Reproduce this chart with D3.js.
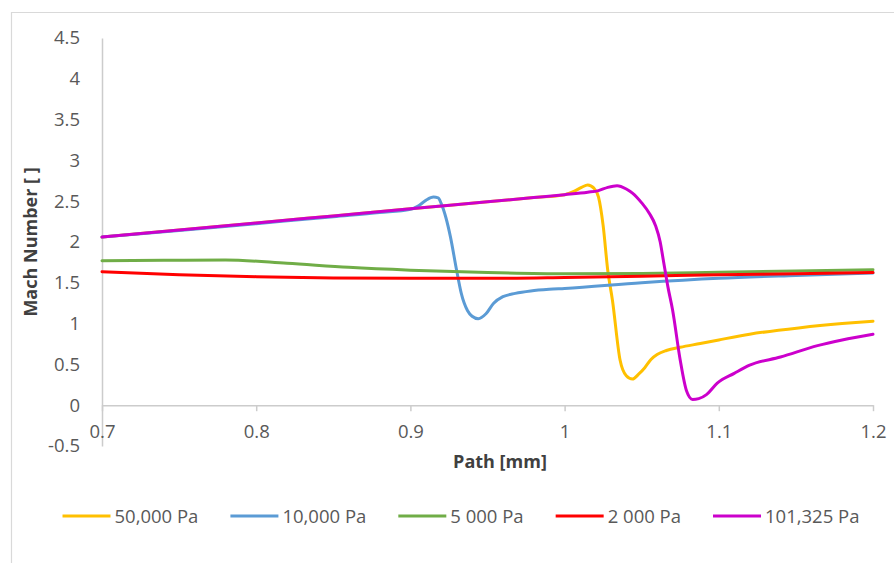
<!DOCTYPE html>
<html>
<head>
<meta charset="utf-8">
<script src="https://cdn.jsdelivr.net/npm/d3@7"></script>
<style>
  html, body { margin: 0; padding: 0; background: #fff; }
  svg { display: block; }
</style>
</head>
<body>
<svg id="chart" width="894" height="563"></svg>
<script>
// ---- data ----
const xTicks = [0.7, 0.8, 0.9, 1, 1.1, 1.2];
const yTicks = [-0.5, 0, 0.5, 1, 1.5, 2, 2.5, 3, 3.5, 4, 4.5];

const seriesNames = ["50,000 Pa", "10,000 Pa", "5 000 Pa", "2 000 Pa", "101,325 Pa"];

const path50000 = [0.70, 0.75, 0.80, 0.85, 0.90, 0.95, 0.98, 1.00, 1.006, 1.011, 1.015, 1.019, 1.022, 1.025, 1.028, 1.031, 1.036, 1.040, 1.044, 1.048, 1.052, 1.056, 1.060, 1.066, 1.075, 1.088, 1.100, 1.120, 1.153, 1.180, 1.200];
const mach50000 = [2.06, 2.147, 2.233, 2.32, 2.407, 2.493, 2.545, 2.58, 2.62, 2.67, 2.70, 2.66, 2.55, 2.20, 1.65, 1.29, 0.55, 0.36, 0.32, 0.38, 0.46, 0.56, 0.62, 0.67, 0.71, 0.756, 0.80, 0.87, 0.95, 1.00, 1.03];

const path10000 = [0.70, 0.75, 0.80, 0.85, 0.88, 0.90, 0.905, 0.910, 0.915, 0.918, 0.920, 0.923, 0.926, 0.930, 0.933, 0.937, 0.940, 0.944, 0.949, 0.954, 0.960, 0.968, 0.978, 0.990, 1.00, 1.05, 1.10, 1.15, 1.20];
const mach10000 = [2.06, 2.14, 2.225, 2.31, 2.36, 2.40, 2.44, 2.51, 2.55, 2.54, 2.47, 2.30, 2.06, 1.65, 1.37, 1.16, 1.09, 1.06, 1.12, 1.25, 1.33, 1.37, 1.40, 1.42, 1.43, 1.50, 1.555, 1.59, 1.62];

const path5000 = [0.70, 0.74, 0.78, 0.82, 0.86, 0.90, 0.95, 1.00, 1.05, 1.10, 1.15, 1.20];
const mach5000 = [1.77, 1.775, 1.78, 1.74, 1.69, 1.655, 1.625, 1.61, 1.615, 1.63, 1.645, 1.66];

const path2000 = [0.70, 0.75, 0.80, 0.85, 0.90, 0.95, 1.00, 1.05, 1.10, 1.15, 1.20];
const mach2000 = [1.635, 1.60, 1.575, 1.56, 1.555, 1.555, 1.565, 1.58, 1.60, 1.61, 1.625];

const path101325 = [0.70, 0.75, 0.80, 0.85, 0.90, 0.95, 0.98, 1.00, 1.015, 1.022, 1.028, 1.034, 1.040, 1.044, 1.050, 1.055, 1.059, 1.062, 1.064, 1.067, 1.070, 1.075, 1.079, 1.083, 1.087, 1.092, 1.099, 1.110, 1.120, 1.140, 1.164, 1.180, 1.200];
const mach101325 = [2.06, 2.147, 2.233, 2.32, 2.407, 2.493, 2.545, 2.58, 2.61, 2.63, 2.67, 2.69, 2.65, 2.60, 2.48, 2.35, 2.20, 2.00, 1.78, 1.45, 1.17, 0.55, 0.18, 0.07, 0.08, 0.13, 0.27, 0.39, 0.49, 0.59, 0.73, 0.80, 0.87];

// ---- styles ----
const seriesColors = ["#FFC000", "#5B9BD5", "#70AD47", "#FF0000", "#CC00CC"];
const FONT = "'Open Sans', 'Liberation Sans', sans-serif";

const series = [
  { name: seriesNames[0], color: seriesColors[0], pts: d3.zip(path50000, mach50000) },
  { name: seriesNames[1], color: seriesColors[1], pts: d3.zip(path10000, mach10000) },
  { name: seriesNames[2], color: seriesColors[2], pts: d3.zip(path5000, mach5000) },
  { name: seriesNames[3], color: seriesColors[3], pts: d3.zip(path2000, mach2000) },
  { name: seriesNames[4], color: seriesColors[4], pts: d3.zip(path101325, mach101325) }
];

const svg = d3.select("#chart");
svg.append("rect").attr("width", 894).attr("height", 563).attr("fill", "#fff");

// outer chart frame (extends beyond the window on the right / bottom)
svg.append("path")
  .attr("d", "M11.5,563 V12.5 H894")
  .attr("fill", "none").attr("stroke", "#d9d9d9").attr("stroke-width", 1.2);

const x = d3.scaleLinear().domain([0.7, 1.2]).range([102, 873]);
const y = d3.scaleLinear().domain([-0.5, 4.5]).range([446, 38]);

// y axis
const gy = svg.append("g").attr("transform", "translate(102,0)")
  .call(d3.axisLeft(y).tickValues(yTicks).tickSize(0).tickSizeOuter(0).tickPadding(22).tickFormat(d => String(d)));
gy.select(".domain").attr("stroke", "#cccccc").attr("stroke-width", 1.5);
gy.selectAll("text").attr("font-family", FONT).attr("font-size", 18.5).attr("fill", "#595959");

// x axis (crosses at y = 0)
const gx = svg.append("g").attr("transform", `translate(0,${y(0)})`)
  .call(d3.axisBottom(x).tickValues(xTicks).tickSize(6).tickSizeOuter(0).tickPadding(14).tickFormat(d => String(d)));
gx.select(".domain").attr("stroke", "#cccccc").attr("stroke-width", 1.5);
gx.selectAll(".tick line").attr("stroke", "#cccccc").attr("stroke-width", 1.5);
gx.selectAll("text").attr("font-family", FONT).attr("font-size", 18.5).attr("fill", "#595959");

// axis titles
svg.append("text")
  .attr("x", 500).attr("y", 468).attr("text-anchor", "middle")
  .attr("font-family", FONT).attr("font-weight", "bold").attr("font-size", 18)
  .attr("fill", "#404040").text("Path [mm]");
svg.append("text")
  .attr("transform", "translate(37,242) rotate(-90)").attr("text-anchor", "middle")
  .attr("font-family", FONT).attr("font-weight", "bold").attr("font-size", 18)
  .attr("fill", "#404040").text("Mach Number [ ]");

// series lines
const line = d3.line().x(d => x(d[0])).y(d => y(d[1])).curve(d3.curveMonotoneX);
svg.append("g").selectAll("path").data(series).join("path")
  .attr("d", d => line(d.pts))
  .attr("fill", "none")
  .attr("stroke", d => d.color)
  .attr("stroke-width", 3)
  .attr("stroke-linejoin", "round")
  .attr("stroke-linecap", "round");

// legend
const legend = svg.append("g");
const items = legend.selectAll("g").data(series).join("g");
items.append("line").attr("x1", 0).attr("x2", 48).attr("y1", 516).attr("y2", 516)
  .attr("stroke", d => d.color).attr("stroke-width", 3);
items.append("text").attr("x", 52).attr("y", 522.5)
  .attr("font-family", FONT).attr("font-size", 18.5).attr("fill", "#595959")
  .text(d => d.name);
let widths = [];
items.each(function () { widths.push(52 + this.querySelector("text").getComputedTextLength()); });
const gap = 32;
const total = d3.sum(widths) + gap * (widths.length - 1);
let cx = 461 - total / 2;
items.each(function (d, i) {
  d3.select(this).attr("transform", `translate(${cx},0)`);
  cx += widths[i] + gap;
});
</script>
</body>
</html>
